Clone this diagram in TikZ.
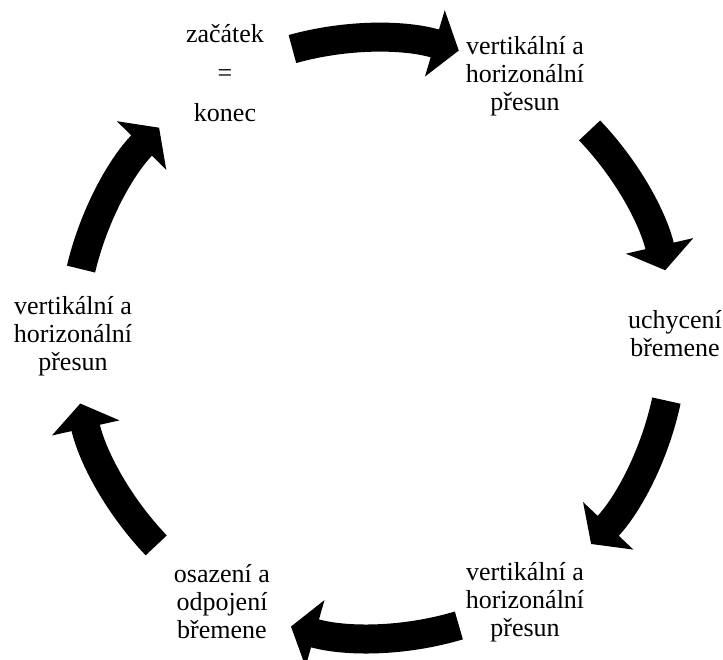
\documentclass[tikz,border=0pt]{standalone}
\usepackage{fontspec}
\setmainfont{Liberation Serif}
\usetikzlibrary{arrows.meta,calc}
\tikzset{stage/.style={align=center,inner sep=0pt,font=\fontsize{26}{28}\selectfont},
cyclearrow/.style={line width=29pt,-{Triangle[length=25pt,width=68pt]}}}
% thick arc on the cycle circle, from node #1 to node #2, gaps in degrees
\newcommand\cyclink[4]{%
  \draw[cyclearrow] let \p1=(#1),\p2=(#2),
    \n1={atan2(\y1,\x1)-#3},\n2={atan2(\y2,\x2)+#4},\n3={\n2-360*(\n2>\n1)}
    in (\n1:300pt) arc[start angle=\n1,end angle=\n3,radius=300pt];}

\begin{document}
\begin{tikzpicture}[x=1pt,y=1pt]
\useasboundingbox (-373,-321) rectangle (350,338);
\node[stage](start) at (-148,265){začátek\\[11.5pt]=\\[11.5pt]konec};
\node[stage](lift) at (152,262){vertikální a\\horizonální\\přesun};
\node[stage](hook) at (302,4.5){uchycení\\břemene};
\node[stage](carry) at (152,-264){vertikální a\\horizonální\\přesun};
\node[stage](place) at (-151,-264){osazení a\\odpojení\\břemene};
\node[stage](back) at (-300,2){vertikální a\\horizonální\\přesun};
\cyclink{start}{lift}{13.6}{13.5}
\cyclink{lift}{hook}{16.1}{12.2}
\cyclink{hook}{carry}{12.9}{16.7}
\cyclink{carry}{place}{13.3}{13.9}
\cyclink{place}{back}{16.5}{13}
\cyclink{back}{start}{12.9}{16.3}
\end{tikzpicture}
\end{document}
